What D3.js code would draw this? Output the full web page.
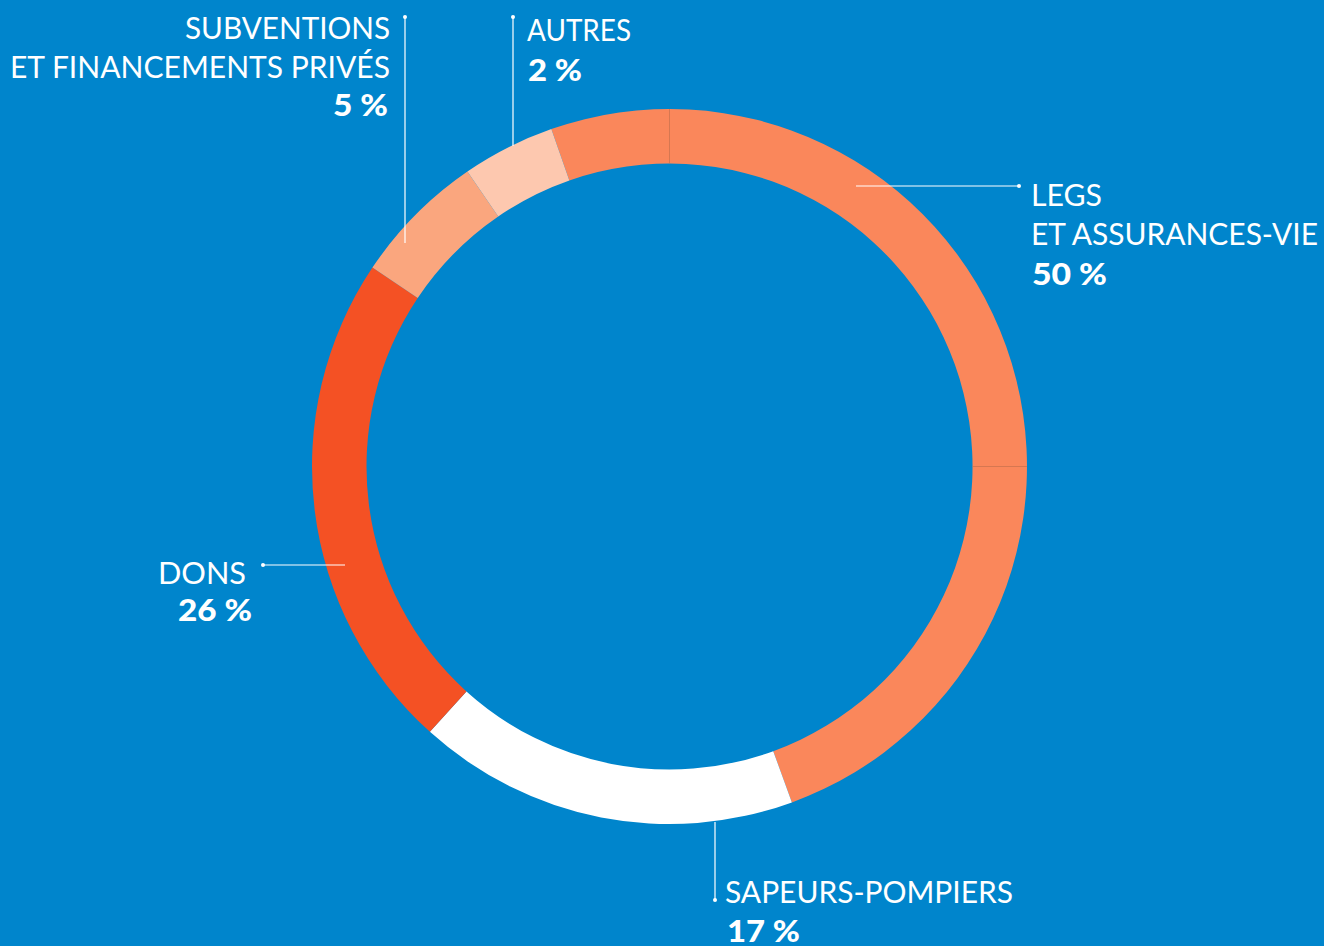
<!DOCTYPE html>
<html>
<head>
<meta charset="utf-8">
<script src="https://cdn.jsdelivr.net/npm/d3@7/dist/d3.min.js"></script>
<style>
  html, body { margin: 0; padding: 0; background: #0085CC; }
  svg { display: block; }
</style>
</head>
<body>
<script>
// ---- data ----
const categories = ["Legs et assurances-vie", "Sapeurs-pompiers", "Dons", "Subventions et financements privés", "Autres"];
const sliceShares = [49.8, 17.25, 22.7, 6.05, 4.2];          // visible share of the ring
const percentLabels = ["50 %", "17 %", "26 %", "5 %", "2 %"]; // printed labels
const labelLines = [
  ["LEGS", "ET ASSURANCES-VIE"],
  ["SAPEURS-POMPIERS"],
  ["DONS"],
  ["SUBVENTIONS", "ET FINANCEMENTS PRIVÉS"],
  ["AUTRES"]
];
const sliceColors = ["#FA875B", "#FFFFFF", "#F45124", "#FAA67E", "#FDC8AF"];

// ---- layout ----
const W = 1324, H = 946;
const cx = 669.5, cy = 466.5, rOuter = 357.5, rInner = 303;
const startDeg = -19.3;

// label layout: leader line, text anchor, x positions & baselines, fitted widths
const labelLayout = [
  { line: [[856, 186], [1019, 186]], dot: 1, anchor: "start", x: 1031, ys: [206, 245], widths: [71, 287], px: 1032, py: 285, pw: 75 },
  { line: [[715, 822], [715, 900]], dot: 1, anchor: "start", x: 725, ys: [903], widths: [288], px: 727, py: 942, pw: 73 },
  { line: [[345, 565], [263, 565]], dot: 1, anchor: "end", x: 246, ys: [584], widths: [88], px: 252, py: 621, pw: 74 },
  { line: [[405, 243], [405, 17]], dot: 1, anchor: "end", x: 390, ys: [39, 78], widths: [205, 380], px: 388, py: 116, pw: 55 },
  { line: [[513, 146], [513, 17]], dot: 1, anchor: "start", x: 527, ys: [41], widths: [104], px: 528, py: 81, pw: 54 }
];

const svg = d3.select("body").append("svg").attr("width", W).attr("height", H);
svg.append("rect").attr("width", W).attr("height", H).attr("fill", "#0085CC");

const pie = d3.pie().sort(null).value(d => d)
  .startAngle(startDeg * Math.PI / 180)
  .endAngle(startDeg * Math.PI / 180 + 2 * Math.PI);
const arc = d3.arc().innerRadius(rInner).outerRadius(rOuter);

const g = svg.append("g").attr("transform", `translate(${cx},${cy})`);
g.selectAll("path.slice")
  .data(pie(sliceShares))
  .join("path")
  .attr("class", "slice")
  .attr("d", arc)
  .attr("fill", (d, i) => sliceColors[i]);

// faint seams visible in the first slice
[0, 90].forEach(deg => {
  const a = deg * Math.PI / 180;
  g.append("line")
    .attr("x1", rInner * Math.sin(a)).attr("y1", -rInner * Math.cos(a))
    .attr("x2", rOuter * Math.sin(a)).attr("y2", -rOuter * Math.cos(a))
    .attr("stroke", "#C8714E").attr("stroke-width", 1).attr("opacity", 0.7);
});

// labels
const lab = svg.append("g");
labelLayout.forEach((L, i) => {
  lab.append("line")
    .attr("x1", L.line[0][0]).attr("y1", L.line[0][1])
    .attr("x2", L.line[1][0]).attr("y2", L.line[1][1])
    .attr("stroke", "#FFFFFF").attr("stroke-width", 1.2);
  lab.append("circle")
    .attr("cx", L.line[1][0]).attr("cy", L.line[1][1]).attr("r", 2)
    .attr("fill", "#FFFFFF");
  labelLines[i].forEach((t, j) => {
    lab.append("text")
      .attr("x", L.x).attr("y", L.ys[j])
      .attr("text-anchor", L.anchor)
      .attr("font-family", "Lato, 'Open Sans', sans-serif")
      .attr("font-size", 30)
      .attr("fill", "#FFFFFF")
      .attr("textLength", L.widths[j])
      .attr("lengthAdjust", "spacingAndGlyphs")
      .text(t);
  });
  lab.append("text")
    .attr("x", L.px).attr("y", L.py)
    .attr("text-anchor", L.anchor)
    .attr("font-family", "Lato, 'Open Sans', sans-serif")
    .attr("font-weight", 900)
    .attr("font-size", 30)
    .attr("fill", "#FFFFFF")
    .attr("textLength", L.pw)
    .attr("lengthAdjust", "spacingAndGlyphs")
    .text(percentLabels[i]);
});
</script>
</body>
</html>
